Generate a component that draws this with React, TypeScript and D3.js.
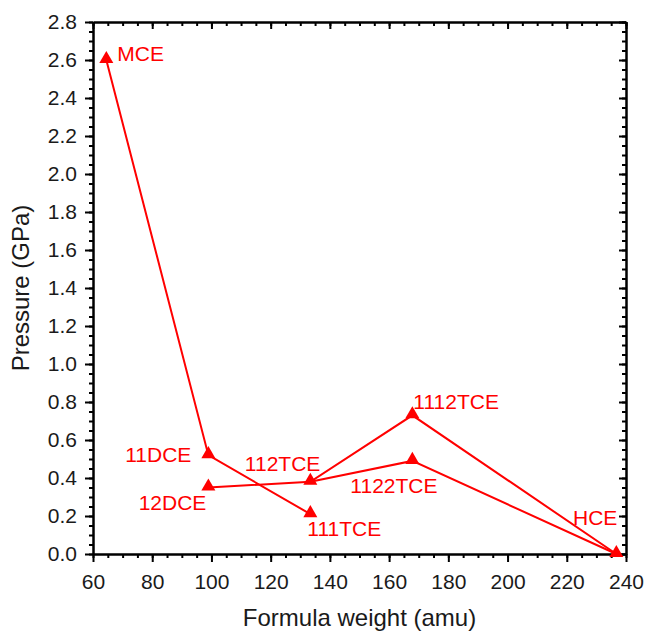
import React, { useEffect, useRef } from "react";
import * as d3 from "d3";

// formula weight (amu) and pressure (GPa) for each compound
const names = ["MCE", "11DCE", "12DCE", "111TCE", "112TCE", "1112TCE", "1122TCE", "HCE"];
const weights = [64.5, 98.96, 98.96, 133.4, 133.4, 167.85, 167.85, 236.74];
const pressures = [2.6, 0.52, 0.35, 0.21, 0.38, 0.73, 0.49, 0.0];

// connecting paths, by compound name
const paths = [
  ["MCE", "11DCE", "111TCE"],
  ["12DCE", "112TCE", "1112TCE", "HCE"],
  ["112TCE", "1122TCE", "HCE"],
];

const xTicks = [60, 80, 100, 120, 140, 160, 180, 200, 220, 240];
const yTicks = [0, 0.2, 0.4, 0.6, 0.8, 1.0, 1.2, 1.4, 1.6, 1.8, 2.0, 2.2, 2.4, 2.6, 2.8];

// label placement relative to the marker (px, text-anchor)
const labelPlace: Record<string, [number, number, string]> = {
  MCE: [11, -6, "start"],
  "11DCE": [-17, -1, "end"],
  "12DCE": [-2, 15, "end"],
  "111TCE": [-3, 15, "start"],
  "112TCE": [10, -18, "end"],
  "1112TCE": [1, -14, "start"],
  "1122TCE": [-62, 25, "start"],
  HCE: [1, -36, "end"],
};

const App: React.FC = () => {
  const svgRef = useRef<SVGSVGElement>(null);

  useEffect(() => {
    const width = 646;
    const height = 631;
    const m = { left: 93, right: 626, top: 22, bottom: 554 };
    const red = "#ff0000";
    const font = "Arial, 'Liberation Sans', sans-serif";

    const svg = d3.select(svgRef.current).attr("width", width).attr("height", height);
    svg.selectAll("*").remove();

    const x = d3.scaleLinear().domain([60, 240]).range([m.left, m.right]);
    const y = d3.scaleLinear().domain([0, 2.8]).range([m.bottom, m.top]);

    const data = names.map((n, i) => ({ name: n, w: weights[i], p: pressures[i] }));
    const byName = new Map(data.map((d) => [d.name, d]));

    // axes: outer ticks on bottom/left, inner mirrored ticks on top/right
    const xMinor = d3.range(60, 241, 5);
    const yMinor = d3.range(0, 2.8001, 0.05);

    const axisStyle = (g: any) => {
      g.select(".domain").attr("stroke", "#000").attr("stroke-width", 2);
      g.selectAll(".tick line").attr("stroke", "#000").attr("stroke-width", 2);
    };
    const tickText = (g: any) =>
      g.selectAll("text").attr("font-size", 21).attr("font-family", font).attr("fill", "#1a1a1a");

    const bottom = svg.append("g").attr("transform", `translate(0,${m.bottom})`);
    bottom.call(d3.axisBottom(x).tickValues(xMinor).tickSize(4).tickFormat(() => "").tickSizeOuter(0)).call(axisStyle);
    bottom
      .append("g")
      .call(d3.axisBottom(x).tickValues(xTicks).tickSize(8).tickSizeOuter(0).tickPadding(12))
      .call(axisStyle)
      .call(tickText);

    const top = svg.append("g").attr("transform", `translate(0,${m.top})`);
    top.call(d3.axisBottom(x).tickValues(xMinor).tickSize(4).tickFormat(() => "").tickSizeOuter(0)).call(axisStyle);
    top.append("g").call(d3.axisBottom(x).tickValues(xTicks).tickSize(7).tickFormat(() => "").tickSizeOuter(0)).call(axisStyle);

    const left = svg.append("g").attr("transform", `translate(${m.left},0)`);
    left.call(d3.axisLeft(y).tickValues(yMinor).tickSize(4).tickFormat(() => "").tickSizeOuter(0)).call(axisStyle);
    left
      .append("g")
      .call(d3.axisLeft(y).tickValues(yTicks).tickSize(8).tickSizeOuter(0).tickPadding(8).tickFormat(d3.format(".1f")))
      .call(axisStyle)
      .call(tickText);

    const right = svg.append("g").attr("transform", `translate(${m.right},0)`);
    right.call(d3.axisLeft(y).tickValues(yMinor).tickSize(4).tickFormat(() => "").tickSizeOuter(0)).call(axisStyle);
    right.append("g").call(d3.axisLeft(y).tickValues(yTicks).tickSize(7).tickFormat(() => "").tickSizeOuter(0)).call(axisStyle);

    // axis titles
    svg
      .append("text")
      .attr("x", (m.left + m.right) / 2)
      .attr("y", 626)
      .attr("text-anchor", "middle")
      .attr("font-size", 24)
      .attr("font-family", font)
      .attr("fill", "#1a1a1a")
      .text("Formula weight (amu)");

    svg
      .append("text")
      .attr("transform", `translate(29,${(m.top + m.bottom) / 2}) rotate(-90)`)
      .attr("text-anchor", "middle")
      .attr("font-size", 24)
      .attr("font-family", font)
      .attr("fill", "#1a1a1a")
      .text("Pressure (GPa)");

    // lines
    const line = d3
      .line<{ w: number; p: number }>()
      .x((d) => x(d.w))
      .y((d) => y(d.p));

    svg
      .selectAll(".series")
      .data(paths)
      .enter()
      .append("path")
      .attr("d", (p) => line(p.map((n) => byName.get(n)!)))
      .attr("fill", "none")
      .attr("stroke", red)
      .attr("stroke-width", 2);

    // markers
    const tri = d3.symbol().type(d3.symbolTriangle).size(85);
    svg
      .selectAll(".marker")
      .data(data)
      .enter()
      .append("path")
      .attr("d", tri)
      .attr("transform", (d) => `translate(${x(d.w)},${y(d.p) - 1})`)
      .attr("fill", red);

    // labels
    svg
      .selectAll(".label")
      .data(data)
      .enter()
      .append("text")
      .attr("x", (d) => x(d.w) + labelPlace[d.name][0])
      .attr("y", (d) => y(d.p) + labelPlace[d.name][1])
      .attr("dy", "0.35em")
      .attr("text-anchor", (d) => labelPlace[d.name][2])
      .attr("font-size", 21)
      .attr("font-family", font)
      .attr("fill", red)
      .text((d) => d.name);
  }, []);

  return (
    <div style={{ position: "absolute", left: 0, top: 0, width: "646px", height: "631px", background: "#fff" }}>
      <svg ref={svgRef}></svg>
    </div>
  );
};

export default App;
